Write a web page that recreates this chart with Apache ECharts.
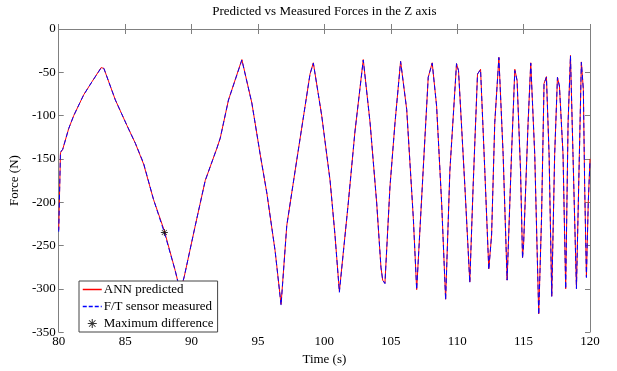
<!DOCTYPE html>
<html>
<head>
<meta charset="utf-8">
<script src="https://cdn.jsdelivr.net/npm/echarts@6/dist/echarts.min.js"></script>
<style>html,body{margin:0;padding:0;background:#fff;}#chart{width:617px;height:371px;}</style>
</head>
<body>
<div id="chart"></div>
<script>
const titleText = 'Predicted vs Measured Forces in the Z axis';
const xName = 'Time (s)';
const yName = 'Force (N)';
const seriesNames = ['ANN predicted', 'F/T sensor measured', 'Maximum difference'];

const annPredicted = [
[80.0,-232],[80.13,-143],[80.3,-139],[80.75,-115],[81.13,-100],[81.88,-76],[82.5,-61],[83.19,-44.6],[83.4,-45.5],
[84.26,-81.8],[85.14,-111.5],[85.77,-132],[86.39,-156],[87.14,-197],[87.95,-233],[88.77,-279],[89.15,-303],[89.45,-286],
[90.28,-227],[91.03,-175],[91.9,-138],[92.16,-126],[92.78,-82],[93.79,-35.3],[94.54,-85.5],[95.17,-145],[95.67,-189.5],
[96.29,-256],[96.74,-318],[97.17,-227],[97.8,-163.5],[98.55,-89],[98.92,-52],[99.17,-39],[99.8,-100],[100.43,-175],
[100.8,-238],[101.13,-303],[101.8,-201],[102.3,-119],[102.93,-35.3],[103.44,-108],[103.94,-201],[104.26,-275],
[104.39,-290],[104.56,-293.6],[104.94,-182],[105.32,-108],[105.74,-37.2],[106.2,-93],[106.7,-219],[106.95,-301],
[107.57,-126],[107.82,-55.7],[108.12,-39],[108.45,-89],[108.83,-201],[109.13,-312],[109.45,-163.5],[109.95,-40],
[110.1,-48],[110.58,-182],[110.95,-292],[111.2,-182],[111.53,-52],[111.76,-46.5],[112.08,-163.5],[112.38,-277],
[112.59,-238],[112.83,-108],[113.14,-32.7],[113.46,-145],[113.76,-290],[114.09,-145],[114.34,-46.5],[114.51,-59.5],
[114.77,-163.5],[114.92,-264],[115.0,-249],[115.34,-108],[115.54,-39],[115.84,-145],[116.02,-256],[116.14,-329],
[116.35,-219],[116.54,-63],[116.72,-55],[116.92,-145],[117.12,-308.5],[117.34,-145],[117.55,-55.7],[117.7,-66],
[117.97,-145],[118.17,-300],[118.35,-108],[118.53,-30.5],[118.72,-145],[118.98,-299],[119.2,-145],[119.35,-38],
[119.5,-70],[119.6,-182],[119.73,-286],[119.87,-200],[120.0,-150]
];

const sensorMeasured = [
[80.0,-234],[80.13,-142],[80.3,-139],[80.75,-115],[81.13,-100],[81.88,-76],[82.5,-61],[83.19,-45],[83.4,-45.5],
[84.26,-81.8],[85.14,-111.5],[85.77,-132],[86.39,-155],[87.14,-197],[87.95,-235],[88.77,-279],[89.15,-303],[89.45,-286],
[90.28,-227],[91.03,-175],[91.9,-138],[92.16,-126],[92.78,-82],[93.79,-35.8],[94.54,-85.5],[95.17,-145],[95.67,-189.5],
[96.29,-256],[96.74,-319],[97.17,-227],[97.8,-163.5],[98.55,-89],[98.92,-52],[99.17,-39.5],[99.8,-100],[100.43,-175],
[100.8,-238],[101.13,-304],[101.8,-201],[102.3,-119],[102.93,-35.8],[103.44,-108],[103.94,-201],[104.26,-275],
[104.39,-290],[104.56,-294],[104.94,-182],[105.32,-108],[105.74,-37.5],[106.2,-93],[106.7,-219],[106.95,-301],
[107.57,-126],[107.82,-55.7],[108.12,-39.5],[108.45,-89],[108.83,-201],[109.13,-313],[109.45,-163.5],[109.95,-40],
[110.1,-48],[110.58,-182],[110.95,-293],[111.2,-182],[111.53,-52],[111.76,-47],[112.08,-163.5],[112.38,-278],
[112.59,-238],[112.83,-108],[113.14,-33],[113.46,-145],[113.76,-290],[114.09,-145],[114.34,-48],[114.51,-59.5],
[114.77,-163.5],[114.92,-265],[115.0,-249],[115.34,-108],[115.54,-39.5],[115.84,-145],[116.02,-256],[116.14,-330],
[116.35,-219],[116.54,-63],[116.72,-55.5],[116.92,-145],[117.12,-309],[117.34,-145],[117.55,-56],[117.7,-66],
[117.97,-145],[118.17,-300],[118.35,-108],[118.53,-31],[118.72,-145],[118.98,-300],[119.2,-145],[119.35,-38.5],
[119.5,-70],[119.6,-182],[119.73,-287],[119.87,-200],[120.0,-152]
];

const maxDifference = [[87.95,-235]];

const xTicks = {min: 80, max: 120, interval: 5};
const yTicks = {min: -350, max: 0, interval: 50};

const font = 'Liberation Serif';
const axisColor = '#808080';
const asterisk = 'path://M4.4,0L5.6,0L5.6,10L4.4,10Z M0,4.4L10,4.4L10,5.6L0,5.6Z M1,1.8L1.8,1L9,8.2L8.2,9Z M8.2,1L9,1.8L1.8,9L1,8.2Z';

const chart = echarts.init(document.getElementById('chart'), null, {renderer: 'canvas'});
const baseAxis = {
  axisLine: {show: true, lineStyle: {color: axisColor, width: 1}},
  axisTick: {show: true, inside: true, length: 5, lineStyle: {color: axisColor}},
  splitLine: {show: false}
};
chart.setOption({
  animation: false,
  backgroundColor: '#ffffff',
  textStyle: {fontFamily: font},
  grid: {left: 58, top: 23, right: 27, bottom: 34, containLabel: false},
  legend: {
    orient: 'vertical', left: 79, top: 281,
    data: [
      {name: seriesNames[0], itemStyle: {opacity: 0}, lineStyle: {color: '#ff0000', width: 1.5, type: 'solid'}},
      {name: seriesNames[1], itemStyle: {opacity: 0}, lineStyle: {color: '#0000ff', width: 1.5, type: [4, 2]}},
      {name: seriesNames[2]}
    ],
    backgroundColor: '#fff',
    borderColor: '#444', borderWidth: 1, borderRadius: 0,
    padding: [2, 4, 2, 3],
    itemWidth: 19, itemHeight: 9, itemGap: 4,
    textStyle: {fontFamily: font, fontSize: 13, color: '#000', lineHeight: 12, padding: [0,0,0,-3]}
  },
  xAxis: [
    Object.assign({type: 'value', position: 'bottom', min: xTicks.min, max: xTicks.max, interval: xTicks.interval,
      name: xName, nameLocation: 'middle', nameGap: 20,
      nameTextStyle: {fontFamily: font, fontSize: 13, color: '#000'},
      axisLabel: {fontFamily: font, fontSize: 13, color: '#000', margin: 3}}, baseAxis),
    Object.assign({type: 'value', position: 'top', min: xTicks.min, max: xTicks.max, interval: xTicks.interval,
      name: titleText, nameLocation: 'middle', nameGap: 11,
      nameTextStyle: {fontFamily: font, fontSize: 13, color: '#000'},
      axisLabel: {show: false}}, baseAxis)
  ],
  yAxis: [
    Object.assign({type: 'value', position: 'left', min: yTicks.min, max: yTicks.max, interval: yTicks.interval,
      name: yName, nameLocation: 'middle', nameGap: 36, nameRotate: 90,
      nameTextStyle: {fontFamily: font, fontSize: 13, color: '#000'},
      axisLabel: {fontFamily: font, fontSize: 13, color: '#000', margin: 3}}, baseAxis),
    Object.assign({type: 'value', position: 'right', min: yTicks.min, max: yTicks.max, interval: yTicks.interval,
      axisLabel: {show: false}}, baseAxis)
  ],
  series: [
    {name: seriesNames[0], type: 'line', data: annPredicted, symbol: 'none', z: 2,
      lineStyle: {color: '#ff0000', width: 1}, itemStyle: {color: '#ff0000'}},
    {name: seriesNames[1], type: 'line', data: sensorMeasured, symbol: 'none', z: 3,
      lineStyle: {color: '#0000ff', width: 1, type: [5, 3]}, itemStyle: {color: '#0000ff'}},
    {name: seriesNames[2], type: 'scatter', data: maxDifference, symbol: asterisk, symbolSize: 7, z: 4,
      itemStyle: {color: '#000'}}
  ]
});
</script>
</body>
</html>
